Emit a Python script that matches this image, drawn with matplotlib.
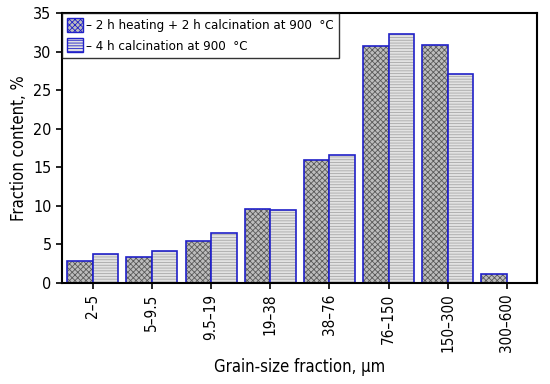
import numpy as np
import matplotlib
matplotlib.use('Agg')
import matplotlib.pyplot as plt

# === DADOS ===
fracoes = ['2–5', '5–9.5', '9.5–19', '19–38', '38–76', '76–150', '150–300', '300–600']
aquec_calc = [2.9, 3.4, 5.4, 9.6, 15.9, 30.7, 30.9, 1.2]   # 2 h heating + 2 h calcination
calc_4h = [3.7, 4.2, 6.5, 9.4, 16.6, 32.3, 27.1, 0.0]      # 4 h calcination

label1 = '– 2 h heating + 2 h calcination at 900  °C'
label2 = '– 4 h calcination at 900  °C'

plt.rcParams['font.family'] = ['DejaVu Sans']
plt.rcParams['font.stretch'] = 'condensed'
plt.rcParams['hatch.linewidth'] = 0.6

fig = plt.figure(figsize=(5.5, 3.84), dpi=100)
ax = fig.add_axes([62 / 550, 1 - 283 / 384, 475 / 550, 270 / 384])

x = np.arange(len(fracoes))
w = 0.43
azul = '#2020c8'

# preenchimento hachurado (cinza) + contorno azul separado
ax.bar(x - w / 2, aquec_calc, w, color='#bdbdbd', edgecolor='#5a5a5a', hatch='xxxxxx', linewidth=0)
ax.bar(x - w / 2, aquec_calc, w, fill=False, edgecolor=azul, linewidth=1.2)
ax.bar(x + w / 2, calc_4h, w, color='#e2e2e2', edgecolor='#a8a8a8', hatch='------', linewidth=0)
mask = np.array(calc_4h) > 0
ax.bar(x[mask] + w / 2, np.array(calc_4h)[mask], w, fill=False, edgecolor=azul, linewidth=1.2)

# legenda com quadrados
h1 = plt.Rectangle((0, 0), 1, 1, facecolor='#bdbdbd', edgecolor=azul, hatch='xxxxxx', linewidth=1)
h2 = plt.Rectangle((0, 0), 1, 1, facecolor='#e2e2e2', edgecolor=azul, hatch='------', linewidth=1)
leg = ax.legend([h1, h2], [label1, label2], loc='upper left', fontsize=9.5,
                handlelength=1.2, handleheight=1.2, handletextpad=0.2,
                borderaxespad=0.0, borderpad=0.4, labelspacing=0.45,
                frameon=True, fancybox=False, edgecolor='black')
leg.get_frame().set_linewidth(1.0)

ax.set_xlim(-0.52, 7.51)
ax.set_ylim(0, 35)
ax.set_yticks(range(0, 36, 5))
ax.set_xticks(x)
ax.set_xticklabels(fracoes, rotation=90, fontsize=11)
ax.tick_params(axis='y', labelsize=11.5, direction='out', length=4, width=1.2)
ax.tick_params(axis='x', direction='out', length=4, width=1.2)
for s in ax.spines.values():
    s.set_linewidth(1.5)

ax.set_xlabel('Grain-size fraction, μm', fontsize=12, labelpad=4)
ax.set_ylabel('Fraction content, %', fontsize=12)

fig.savefig('out.png', dpi=100)
